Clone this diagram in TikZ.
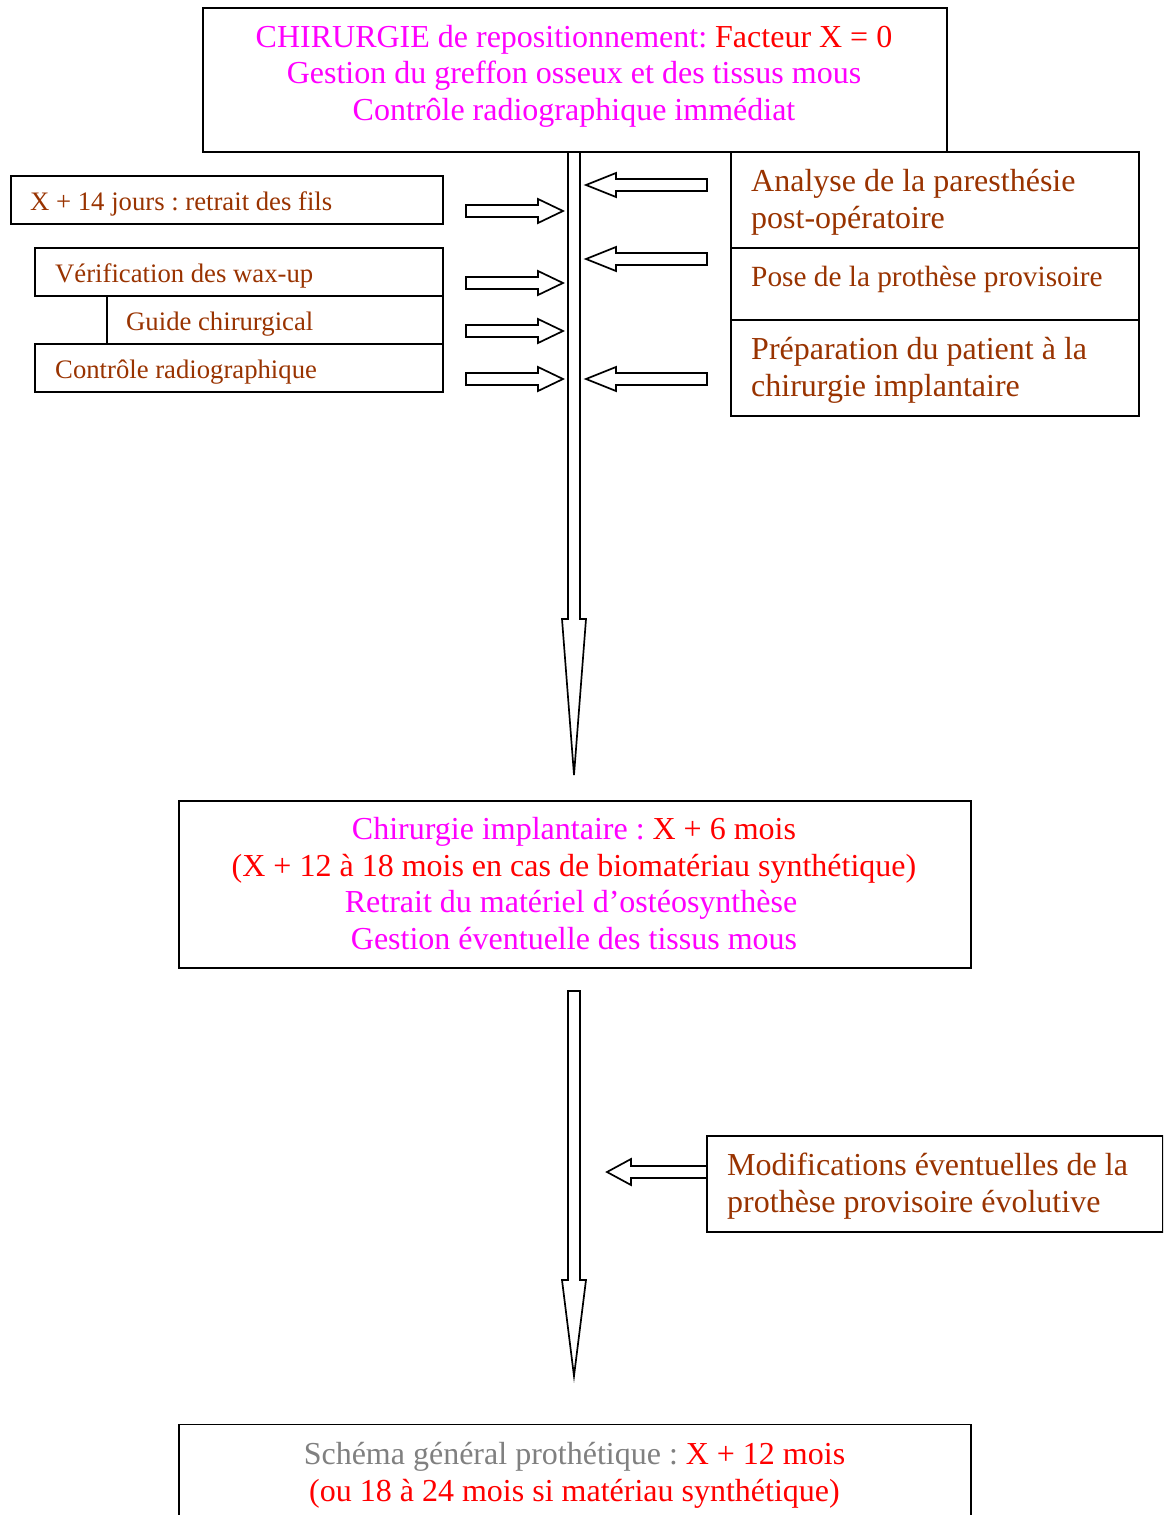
\documentclass[tikz,border=0pt]{standalone}
\usepackage{fontspec}
\setmainfont{Liberation Serif}
\frenchspacing
\definecolor{mag}{HTML}{FF00FF}
\definecolor{rd}{HTML}{FF0000}
\definecolor{brn}{HTML}{993300}
\definecolor{gry}{HTML}{808080}
\begin{document}
\begin{tikzpicture}[x=1pt,y=-1pt,
  box/.style={draw=black, line width=1.7, inner sep=0, anchor=north west},
  blk/.style={draw=black, line width=1.7, fill=white, line join=miter},
  big/.style={inner sep=0, font=\fontsize{32}{37}\selectfont},
  mid/.style={inner sep=0, font=\fontsize{29.3}{34}\selectfont},
  small/.style={inner sep=0, font=\fontsize{26.7}{31}\selectfont},
  ctr/.style={anchor=base},
  lft/.style={anchor=base west}]
\clip (0,0) rectangle (1163,1515);
\fill[white] (0,0) rectangle (1163,1515);

% first vertical block arrow, attached under the top box
\draw[blk] (568,151) -- (568,619) -- (562,619) -- (574,775) -- (586,619) -- (580,619) -- (580,151);

% top box
\node[box, minimum width=744, minimum height=144] (top) at (202,7) {};
\node[big, ctr, text=mag] (t1) at (574,47) {CHIRURGIE de repositionnement: \textcolor{rd}{Facteur X = 0}};
\node[big, ctr, text=mag] (t2) at (574,83.5) {Gestion du greffon osseux et des tissus mous};
\node[big, ctr, text=mag] (t3) at (574,120) {Contrôle radiographique immédiat};

% left column boxes
\node[box, minimum width=432, minimum height=48] (l1) at (10,175) {};
\node[box, minimum width=408, minimum height=48] (l2) at (34,247) {};
\node[box, minimum width=336, minimum height=48] (l3) at (106,295) {};
\node[box, minimum width=408, minimum height=48] (l4) at (34,343) {};
\node[small, lft, text=brn] (l1t) at (30,210.5) {X + 14 jours : retrait des fils};
\node[small, lft, text=brn] (l2t) at (55,282.5) {Vérification des wax-up};
\node[small, lft, text=brn] (l3t) at (126,330) {Guide chirurgical};
\node[small, lft, text=brn] (l4t) at (55,378) {Contrôle radiographique};

% right column boxes
\node[box, minimum width=408, minimum height=96] (r1) at (730,151) {};
\node[box, minimum width=408, minimum height=72] (r2) at (730,247) {};
\node[box, minimum width=408, minimum height=96] (r3) at (730,319) {};
\node[big, lft, text=brn] (r1a) at (751,191.5) {Analyse de la paresthésie};
\node[big, lft, text=brn] (r1b) at (751,228) {post-opératoire};
\node[mid, lft, text=brn] (r2t) at (751,286.5) {Pose de la prothèse provisoire};
\node[big, lft, text=brn] (r3a) at (751,359) {Préparation du patient à la};
\node[big, lft, text=brn] (r3b) at (751,396) {chirurgie implantaire};

% small block arrows pointing right, toward the time line
\foreach \c in {211,283,331,379}{
  \draw[blk] (466,\c-6) -- (538,\c-6) -- (538,\c-12) -- (563,\c) -- (538,\c+12) -- (538,\c+6) -- (466,\c+6) -- cycle;
}
% small block arrows pointing left, toward the time line
\foreach \c in {185,259,379}{
  \draw[blk] (707,\c-6) -- (616,\c-6) -- (616,\c-12) -- (586,\c) -- (616,\c+12) -- (616,\c+6) -- (707,\c+6) -- cycle;
}

% middle box
\node[box, minimum width=792, minimum height=167] (mbox) at (178,800) {};
\node[big, ctr, text=mag] (m1) at (574,839) {Chirurgie implantaire : \textcolor{rd}{X + 6 mois}};
\node[big, ctr, text=rd] (m2) at (574,876) {(X + 12 à 18 mois en cas de biomatériau synthétique)};
\node[big, ctr, text=mag] (m3) at (571,912.5) {Retrait du matériel d’ostéosynthèse};
\node[big, ctr, text=mag] (m4) at (574,949) {Gestion éventuelle des tissus mous};

% second vertical block arrow
\draw[blk] (568,991) -- (580,991) -- (580,1280) -- (586,1280) -- (574,1376) -- (562,1280) -- (568,1280) -- cycle;

% side box and its arrow
\draw[blk] (706,1166) -- (631,1166) -- (631,1159) -- (607,1172) -- (631,1185) -- (631,1178) -- (706,1178);
\node[box, minimum width=456, minimum height=96] (side) at (706,1135) {};
\node[big, lft, text=brn] (s1) at (727,1175) {Modifications éventuelles de la};
\node[big, lft, text=brn] (s2) at (727,1212) {prothèse provisoire évolutive};

% bottom box, running past the lower edge
\node[box, minimum width=792, minimum height=140] (bbox) at (178,1423.5) {};
\node[big, ctr, text=gry] (b1) at (574.5,1464) {Schéma général prothétique : \textcolor{rd}{X + 12 mois}};
\node[big, ctr, text=rd] (b2) at (574.5,1501) {(ou 18 à 24 mois si matériau synthétique)};
\end{tikzpicture}
\end{document}
